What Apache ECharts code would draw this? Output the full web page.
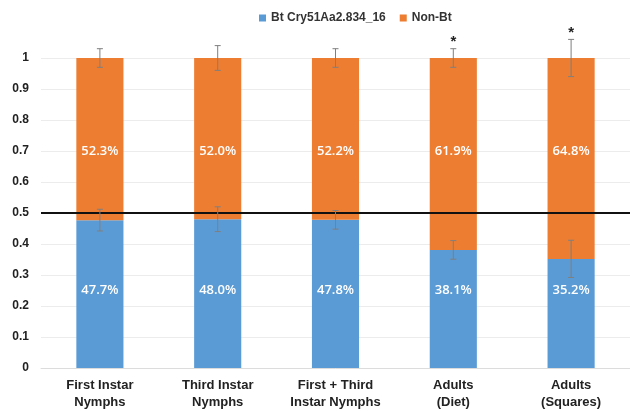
<!DOCTYPE html>
<html>
<head>
<meta charset="utf-8">
<script src="https://cdn.jsdelivr.net/npm/echarts@6/dist/echarts.min.js"></script>
<style>
  html, body { margin: 0; padding: 0; background: #fff; }
  #chart { width: 630px; height: 411px; }
</style>
</head>
<body>
<div id="chart"></div>
<script>
// categories and values
var categories = ['First Instar\nNymphs', 'Third Instar\nNymphs', 'First + Third\nInstar Nymphs', 'Adults\n(Diet)', 'Adults\n(Squares)'];
var btShare = [0.477, 0.480, 0.478, 0.381, 0.352];
var nonBtShare = [0.523, 0.520, 0.522, 0.619, 0.648];
var btErr = [0.035, 0.04, 0.03, 0.03, 0.06];
var topErr = [0.03, 0.04, 0.03, 0.03, 0.06];
var sigMarks = ['', '', '', '*', '*'];

var chart = echarts.init(document.getElementById('chart'));

// error bars drawn with custom series: [index, center, err]
function errorBar(params, api) {
  var x = api.value(0);
  var c = api.value(1);
  var e = api.value(2);
  var hi = api.coord([x, c + e]);
  var lo = api.coord([x, c - e]);
  var cap = 3;
  var style = { stroke: '#7f7f7f', lineWidth: 1 };
  var kids = [
    { type: 'line', shape: { x1: hi[0], y1: hi[1], x2: lo[0], y2: lo[1] }, style: style },
    { type: 'line', shape: { x1: hi[0] - cap, y1: hi[1], x2: hi[0] + cap, y2: hi[1] }, style: style },
    { type: 'line', shape: { x1: lo[0] - cap, y1: lo[1], x2: lo[0] + cap, y2: lo[1] }, style: style }
  ];
  var mark = sigMarks[params.dataIndex];
  if (params.seriesName === 'errTop' && mark) {
    kids.push({
      type: 'text',
      style: { text: mark, x: hi[0], y: hi[1] + 1, align: 'center', verticalAlign: 'bottom',
        fill: '#222', font: 'bold 15px "Liberation Sans"' }
    });
  }
  return { type: 'group', children: kids };
}

// percentage labels sit at a fixed height inside each segment, like the original
function pctText(yLevel) {
  return function (params, api) {
    var p = api.coord([api.value(0), yLevel]);
    return {
      type: 'text',
      style: { text: (api.value(1) * 100).toFixed(1) + '%', x: p[0], y: p[1], align: 'center',
        verticalAlign: 'middle', fill: '#fff', font: '600 13px "Open Sans"' }
    };
  };
}

chart.setOption({
  animation: false,
  color: ['#5b9bd5', '#ed7d31'],
  textStyle: { fontFamily: 'Liberation Sans' },
  legend: {
    data: ['Bt Cry51Aa2.834_16', 'Non-Bt'],
    top: 7,
    left: 254,
    icon: 'rect',
    itemWidth: 7,
    itemHeight: 7,
    itemGap: 14,
    textStyle: { color: '#333', fontWeight: 'bold', fontSize: 12, fontFamily: 'Liberation Sans' }
  },
  grid: { left: 41, right: 0, top: 58, bottom: 43 },
  xAxis: {
    type: 'category',
    data: categories,
    axisTick: { show: false },
    axisLine: { lineStyle: { color: '#dcdcdc' } },
    axisLabel: { color: '#222', fontWeight: 'bold', fontSize: 13, lineHeight: 17, margin: 9, interval: 0 }
  },
  yAxis: {
    type: 'value',
    min: 0,
    max: 1,
    interval: 0.1,
    axisLine: { show: false },
    axisTick: { show: false },
    axisLabel: { color: '#222', fontWeight: 'bold', fontSize: 12, margin: 12 },
    splitLine: { lineStyle: { color: '#ececec' } }
  },
  series: [
    {
      name: 'Bt Cry51Aa2.834_16',
      type: 'bar',
      stack: 'total',
      barWidth: '40%',
      data: btShare,
      markLine: {
        silent: true,
        symbol: 'none',
        label: { show: false },
        lineStyle: { color: '#111', width: 2, type: 'solid' },
        data: [{ yAxis: 0.5 }]
      }
    },
    {
      name: 'Non-Bt',
      type: 'bar',
      stack: 'total',
      barWidth: '40%',
      data: nonBtShare
    },
    {
      name: 'btLabel',
      type: 'custom',
      renderItem: pctText(0.25),
      z: 4,
      data: btShare.map(function (v, i) { return [i, v]; })
    },
    {
      name: 'nonBtLabel',
      type: 'custom',
      renderItem: pctText(0.70),
      z: 4,
      data: nonBtShare.map(function (v, i) { return [i, v]; })
    },
    {
      name: 'errBt',
      type: 'custom',
      renderItem: errorBar,
      clip: false,
      z: 5,
      data: btShare.map(function (v, i) { return [i, v, btErr[i]]; })
    },
    {
      name: 'errTop',
      type: 'custom',
      renderItem: errorBar,
      clip: false,
      z: 5,
      data: nonBtShare.map(function (v, i) { return [i, btShare[i] + v, topErr[i]]; })
    }
  ]
});
</script>
</body>
</html>
